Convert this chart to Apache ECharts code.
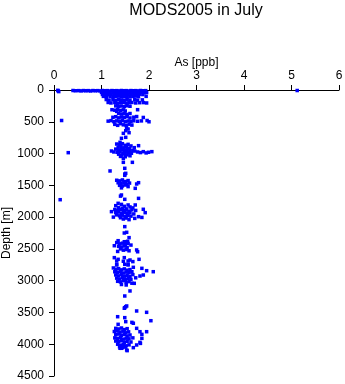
<!DOCTYPE html>
<html>
<head>
<meta charset="utf-8">
<script src="https://cdn.jsdelivr.net/npm/echarts@6/dist/echarts.min.js"></script>
<style>html,body{margin:0;padding:0;background:#fff}#c{width:345px;height:384px}</style>
</head>
<body>
<div id="c"></div>
<script>
const xTicks = [0, 1, 2, 3, 4, 5, 6];
const depthTicks = [0, 500, 1000, 1500, 2000, 2500, 3000, 3500, 4000, 4500];

// [As ppb, depth m]
const surface = [
[0.08,5],[0.10,25],[0.09,15],[5.12,8],
[0.40,8],[0.45,12],[0.52,10],[0.57,14],[0.62,9],[0.67,12],[0.72,10],[0.77,15],[0.82,9],[0.87,12],[0.92,10],[0.97,14],[1.02,8],[1.07,12],[1.12,10],[1.17,15],[1.22,9],[1.27,12],[1.32,10],[1.37,14],[1.42,8],[1.47,12],[1.52,10],[1.57,15],[1.62,9],[1.67,12],[1.72,10],[1.77,14],[1.82,8],[1.87,12],[1.93,10],
[1.00,38],[1.06,42],[1.12,36],[1.18,44],[1.24,40],[1.30,38],[1.36,45],[1.42,40],[1.48,36],[1.54,42],[1.60,40],[1.66,38],[1.72,44],[1.78,40],[1.84,36],[1.90,42],[1.95,40],
[1.02,70],[1.08,66],[1.14,74],[1.20,68],[1.26,72],[1.32,66],[1.38,74],[1.44,70],[1.50,66],[1.56,72],[1.62,68],[1.68,74],[1.74,70],[1.80,66],[1.87,72],
[1.04,100],[1.10,104],[1.18,98],[1.24,106],[1.30,100],[1.36,96],[1.42,104],[1.48,100],[1.54,106],[1.60,98],[1.66,102],[1.72,96],[1.78,104],[1.94,100],
[1.10,150],[1.16,158],[1.24,152],[1.30,162],[1.36,148],[1.42,156],[1.48,160],[1.54,150],[1.60,158],[1.70,152],[1.76,160],[1.86,155],
[1.14,196],[1.20,204],[1.28,198],[1.34,208],[1.40,200],[1.46,194],[1.52,206],[1.58,200],[1.64,196],[1.72,204],[1.80,200],[1.88,198],[1.95,204],
[1.30,250],[1.36,258],[1.42,252],[1.48,262],[1.54,248],[1.60,256],
[1.22,310],[1.28,318],[1.34,306],[1.40,322],[1.46,312],[1.50,330],[1.76,310],[1.32,336],
[1.36,368],[1.42,378],[1.48,372],[1.54,384],[1.60,370],
[1.24,430],[1.30,420],[1.36,438],[1.42,426],[1.48,434],[1.54,420],[1.60,440],[1.68,428],[1.74,418],[1.88,432],
[0.16,480],[1.14,490],[1.20,482],[1.26,498],[1.32,486],[1.38,494],[1.44,480],[1.50,500],[1.56,488],[1.62,496],[1.68,484],[1.76,492],[1.84,486],[1.96,480],[2.00,500],
[1.28,540],[1.34,556],[1.40,530],[1.46,548],[1.52,560],[1.58,538],[1.64,552],[1.53,600]
];

const mid1000 = [
[1.51,640],[1.56,614],[1.46,682],[1.58,672],[1.42,760],[1.51,745],[1.39,823],
[1.32,850],[1.38,860],[1.44,845],[1.50,870],[1.56,855],[1.62,880],[1.35,900],[1.41,890],[1.47,910],[1.53,895],[1.59,920],[1.30,930],[1.36,945],[1.42,935],[1.48,950],[1.54,940],[1.60,960],[1.66,950],[1.33,980],[1.39,970],[1.45,990],[1.51,975],[1.57,985],[1.63,995],[1.36,1010],[1.42,1025],[1.48,1005],[1.54,1020],[1.60,1035],[1.40,1045],[1.50,1050],
[1.70,960],[1.76,975],[1.82,985],[1.88,970],[1.94,990],[1.99,980],[2.06,970],[1.78,876],[1.69,907],[1.21,960],[1.26,975],
[1.46,1075],[1.46,1138],[1.65,1138],[1.18,1274],[1.49,1232],[1.51,1311],
[0.30,986]
];

const mid1500 = [
[1.49,1322],[1.49,1343],[1.32,1420],[1.38,1430],[1.44,1415],[1.50,1440],[1.56,1425],[1.35,1460],[1.41,1470],[1.47,1455],[1.53,1480],[1.59,1465],[1.38,1500],[1.44,1510],[1.50,1495],[1.56,1520],[1.42,1540],[1.74,1479],[1.78,1458],[1.71,1547],[1.42,1652],[1.40,1670],[1.78,1705],[1.49,1720],
[0.13,1726]
];

const mid2000 = [
[1.35,1783],[1.56,1809],[1.71,1809],[1.30,1820],[1.42,1800],[1.48,1830],[1.60,1840],[1.36,1850],[1.44,1860],[1.52,1870],[1.66,1855],[1.28,1880],[1.34,1895],[1.40,1880],[1.46,1900],[1.52,1890],[1.58,1905],[1.64,1885],[1.72,1895],[1.88,1877],[1.21,1914],[1.30,1930],[1.36,1920],[1.42,1940],[1.48,1925],[1.54,1945],[1.60,1930],[1.68,1950],[1.92,1930],[1.32,1965],[1.38,1980],[1.44,1970],[1.50,1990],[1.56,1975],[1.62,1985],[1.78,1993],[1.25,2000],[1.40,2010],[1.46,2030],[1.52,2015],[1.58,2040],[1.70,2020],[1.85,2005]
];

const mid2500 = [
[1.49,2150],[1.53,2239],[1.48,2250],[1.58,2323],[1.35,2371],[1.48,2387],[1.55,2380],[1.27,2450],[1.32,2400],[1.38,2420],[1.44,2410],[1.50,2430],[1.56,2415],[1.62,2440],[1.36,2460],[1.42,2470],[1.48,2455],[1.54,2480],[1.40,2500],[1.46,2520],[1.52,2510],[1.58,2530],[1.34,2540],[1.74,2517],[1.76,2545],[1.27,2638],[1.35,2664],[1.48,2638],[1.60,2675],[1.79,2664],[1.32,2743],[1.49,2743],[1.56,2743]
];

const deep3000 = [
[1.32,2690],[1.46,2695],[1.56,2690],[1.66,2700],[1.32,2753],[1.56,2753],[1.67,2790],[1.85,2806],[1.95,2843],[2.09,2859],[1.25,2800],[1.30,2820],[1.36,2810],[1.42,2830],[1.48,2815],[1.54,2835],[1.60,2825],[1.28,2860],[1.34,2870],[1.40,2855],[1.46,2880],[1.52,2865],[1.58,2875],[1.64,2860],[1.88,2911],[1.81,2927],[1.30,2910],[1.36,2925],[1.42,2900],[1.48,2930],[1.54,2915],[1.60,2935],[1.66,2905],[1.32,2960],[1.38,2975],[1.44,2950],[1.50,2985],[1.56,2965],[1.62,2980],[1.72,2955],[1.34,3010],[1.40,3020],[1.46,3000],[1.52,3030],[1.58,3015],[1.64,3040],[1.69,3042],[1.42,3060],[1.52,3068],
[1.60,3162],[1.49,3241],[1.53,3398],[1.48,3434]
];

const deep4000 = [
[1.49,3425],[1.51,3410],[1.74,3477],[1.95,3498],[1.34,3567],[1.49,3582],[1.51,3645],[1.64,3656],[1.67,3670],[2.04,3630],[1.35,3687],
[1.30,3750],[1.36,3760],[1.42,3745],[1.48,3770],[1.54,3755],[1.74,3750],[1.27,3800],[1.33,3790],[1.39,3810],[1.45,3795],[1.51,3820],[1.57,3805],[1.81,3803],[1.95,3803],[1.30,3850],[1.36,3840],[1.42,3860],[1.48,3845],[1.54,3870],[1.60,3855],[1.85,3845],[1.28,3900],[1.34,3910],[1.40,3895],[1.46,3920],[1.52,3905],[1.58,3915],[1.66,3900],[1.85,3908],[1.30,3950],[1.36,3960],[1.42,3945],[1.48,3970],[1.54,3955],[1.62,3965],[1.81,3971],[1.82,3987],[1.34,4000],[1.40,4015],[1.46,4005],[1.52,4025],[1.58,4010],[1.74,4012],[1.38,4040],[1.44,4055],[1.50,4045],[1.67,4054],[1.42,4064],[1.53,4090],[1.39,4064],[1.54,4101]
];

const allPoints = [].concat(surface, mid1000, mid1500, mid2000, mid2500, deep3000, deep4000);

const FONT = 'Liberation Sans, Arial, Helvetica, sans-serif';
const chart = echarts.init(document.getElementById('c'), null, {renderer: 'canvas'});
chart.setOption({
  animation: false,
  backgroundColor: '#fff',
  title: {
    text: 'MODS2005 in July',
    left: 191, top: -2, textAlign: 'center',
    textStyle: {fontFamily: FONT, fontSize: 16, fontWeight: 'normal', color: '#000'}
  },
  grid: {left: 54, right: 6, top: 90, bottom: 8, containLabel: false, outerBoundsMode: 'none'},
  xAxis: {
    type: 'value', position: 'top', min: xTicks[0], max: xTicks[xTicks.length - 1], interval: 1,
    name: 'As [ppb]', nameLocation: 'middle', nameGap: 21, nameMoveOverlap: false,
    nameTextStyle: {fontFamily: FONT, fontSize: 12, color: '#000'},
    axisLine: {show: true, lineStyle: {color: '#000', width: 1}},
    axisTick: {show: true, inside: false, length: 5, lineStyle: {color: '#000'}},
    axisLabel: {fontFamily: FONT, fontSize: 12, color: '#000', margin: 8},
    splitLine: {show: false}
  },
  yAxis: {
    type: 'value', inverse: true, min: depthTicks[0], max: depthTicks[depthTicks.length - 1], interval: 500,
    name: 'Depth [m]', nameLocation: 'middle', nameGap: 41, nameMoveOverlap: false,
    nameTextStyle: {fontFamily: FONT, fontSize: 12, color: '#000'},
    axisLine: {show: true, lineStyle: {color: '#000', width: 1}},
    axisTick: {show: true, inside: false, length: 5, lineStyle: {color: '#000'}},
    axisLabel: {fontFamily: FONT, fontSize: 12, color: '#000', margin: 10, formatter: function (v) { return String(v); }},
    splitLine: {show: false}
  },
  series: [{
    type: 'scatter',
    data: allPoints,
    symbol: 'rect',
    symbolSize: 3.5,
    itemStyle: {color: '#0000ff', opacity: 1},
    silent: true
  }]
});
</script>
</body>
</html>
